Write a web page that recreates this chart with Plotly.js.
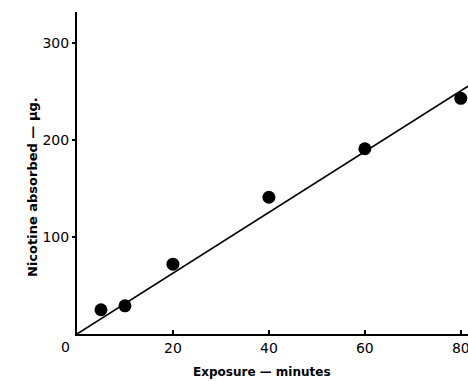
<!DOCTYPE html>
<html>
<head>
<meta charset="utf-8">
<script src="https://cdn.plot.ly/plotly-3.0.1.min.js"></script>
<style>html,body{margin:0;padding:0;background:#fff;}#chart{width:468px;height:381px;}</style>
</head>
<body>
<div id="chart"></div>
<script>
// Observed points
var exposureMin = [5, 10, 20, 40, 60, 80];
var nicotineUg = [25, 29, 72, 141, 191, 243];
// Fitted straight line
var fitX = [0, 82];
var fitY = [0, 257];
// Ticks
var xTickVals = [20, 40, 60, 80];
var xTickText = ['20', '40', '60', '80'];
var yTickVals = [100, 200, 300];
var yTickText = ['100', '200', '300'];

var fnt = 'DejaVu Sans, sans-serif';
var traces = [
  {x: fitX, y: fitY, mode: 'lines', line: {color: '#000', width: 1.6}, hoverinfo: 'skip', showlegend: false},
  {x: exposureMin, y: nicotineUg, mode: 'markers', marker: {color: '#000', size: 13}, showlegend: false}
];
var layout = {
  width: 468, height: 381,
  margin: {l: 77, r: 0, t: 12, b: 47},
  paper_bgcolor: '#fff', plot_bgcolor: '#fff',
  showlegend: false,
  xaxis: {
    range: [0, 81.5], showgrid: false, zeroline: false,
    showline: true, linecolor: '#000', linewidth: 2,
    tickvals: xTickVals, ticktext: xTickText,
    ticks: 'inside', ticklen: 4, tickcolor: '#000', tickwidth: 1.5,
    ticklabeloverflow: 'allow',
    tickfont: {family: fnt, size: 14, color: '#000'}
  },
  yaxis: {
    range: [0, 332], showgrid: false, zeroline: false,
    showline: true, linecolor: '#000', linewidth: 2,
    tickvals: yTickVals, ticktext: yTickText,
    ticks: 'outside', ticklen: 3, tickcolor: '#000', tickwidth: 1.5,
    tickfont: {family: fnt, size: 14, color: '#000'}
  },
  annotations: [
    {text: '0', xref: 'paper', yref: 'paper', x: -0.03, y: -0.04, showarrow: false,
     xanchor: 'center', yanchor: 'middle', font: {family: fnt, size: 14, color: '#000'}},
    {text: 'Exposure — minutes', xref: 'paper', yref: 'paper', x: (262 - 77) / 391, y: -(372 - 334) / 322,
     showarrow: false, xanchor: 'center', yanchor: 'middle',
     font: {family: fnt, size: 12, color: '#000', weight: 'bold'}},
    {text: 'Nicotine absorbed — μg.', xref: 'paper', yref: 'paper', x: -(77 - 32) / 391, y: (334 - 187) / 322,
     textangle: -90, showarrow: false, xanchor: 'center', yanchor: 'middle',
     font: {family: fnt, size: 13, color: '#000', weight: 'bold'}}
  ]
};
Plotly.newPlot('chart', traces, layout, {displayModeBar: false, staticPlot: true});
</script>
</body>
</html>
